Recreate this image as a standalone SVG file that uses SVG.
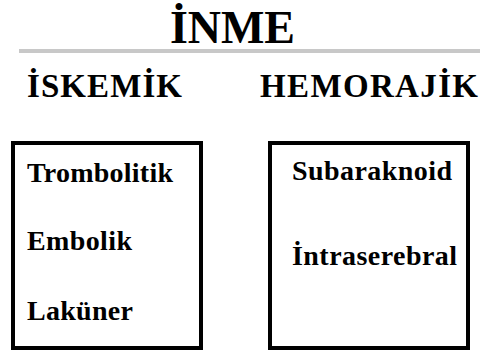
<svg xmlns="http://www.w3.org/2000/svg" width="480" height="351" viewBox="0 0 480 351">
<style>
text{font-family:"Liberation Serif","Times New Roman",serif;font-weight:bold;fill:#000}
.t{font-size:46px}
.h{font-size:33px}
.i{font-size:28px}
.box{fill:#fff;stroke:#000;stroke-width:4}
</style>
<rect width="480" height="351" fill="#fff"/>
<g id="title">
<text class="t" x="170" y="43" textLength="125">İNME</text>
<line x1="19" y1="51" x2="480" y2="51" stroke="#c8c8c8" stroke-width="4"/>
</g>
<g id="iskemik">
<text class="h" x="27" y="97" textLength="155">İSKEMİK</text>
</g>
<g id="hemorajik">
<text class="h" x="260" y="97" textLength="218">HEMORAJİK</text>
</g>
<g id="iskemik-box">
<rect class="box" x="13" y="143" width="188" height="205"/>
<text class="i" x="27" y="182" textLength="146">Trombolitik</text>
<text class="i" x="27" y="250" textLength="105">Embolik</text>
<text class="i" x="27" y="320" textLength="106">Laküner</text>
</g>
<g id="hemorajik-box">
<rect class="box" x="270" y="143" width="198" height="205"/>
<text class="i" x="292" y="180" textLength="160">Subaraknoid</text>
<text class="i" x="292" y="265" textLength="165">İntraserebral</text>
</g>
<g id="connectors"/>
</svg>
